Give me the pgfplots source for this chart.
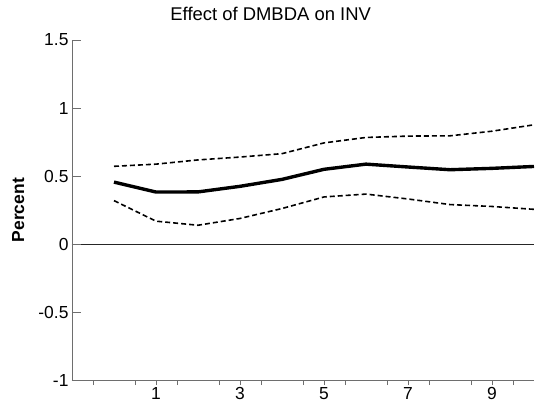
\documentclass[border=0pt]{standalone}
\usepackage{fontspec}
\setmainfont{Liberation Sans}
\usepackage{pgfplots}
\pgfplotsset{compat=1.18}
\definecolor{axgray}{HTML}{6E6E6E}
\begin{document}
\begin{tikzpicture}
\begin{axis}[
  at={(0,0)}, anchor=south west,
  scale only axis, width=462bp, height=340.3bp,
  xmin=-1, xmax=10, ymin=-1, ymax=1.5,
  axis x line*=bottom, axis y line*=left,
  axis line style={axgray, line width=0.7pt},
  every tick/.style={axgray, line width=0.7pt},
  xtick={-0.5,0.5,...,9.5}, xticklabels={},
  xtick align=outside, ytick align=inside,
  xtick style={/pgfplots/major tick length=4.7bp},
  ytick style={/pgfplots/major tick length=9bp},
  extra x ticks={1,3,5,7,9},
  extra x tick labels={1,3,5,7,9},
  extra x tick style={/pgfplots/major tick length=0pt},
  xticklabel style={yshift=-4bp},
  ytick={-1,-0.5,0,0.5,1,1.5},
  yticklabels={-1,-0.5,0,0.5,1,1.5},
  extra y ticks={0}, extra y tick labels={},
  extra y tick style={grid=major, major grid style={black!85, line width=0.8pt}},
  tick label style={font=\fontsize{17.5}{20}\selectfont},
  title={Effect of DMBDA on INV},
  title style={at={(axis description cs:0.43,1)}, anchor=center, yshift=20bp, font=\fontsize{18.5}{22}\selectfont},
  ylabel={Percent},
  ylabel style={at={(axis description cs:-0.1162,0.5)}, anchor=center, font=\fontsize{17.5}{21}\selectfont\bfseries},
  clip=true,
]
\addplot[black, line width=3.4pt, line join=round] coordinates {
(0,0.456)(1,0.383)(2,0.384)(3,0.425)(4,0.476)(5,0.55)(6,0.588)(7,0.567)(8,0.547)(9,0.557)(10,0.571)};
\addplot[black, line width=1.6pt, dash pattern=on 5bp off 3bp] coordinates {
(0,0.572)(1,0.588)(2,0.619)(3,0.64)(4,0.665)(5,0.744)(6,0.784)(7,0.794)(8,0.796)(9,0.83)(10,0.877)};
\addplot[black, line width=1.6pt, dash pattern=on 5bp off 3bp] coordinates {
(0,0.32)(1,0.169)(2,0.139)(3,0.189)(4,0.262)(5,0.347)(6,0.368)(7,0.332)(8,0.291)(9,0.277)(10,0.256)};
\end{axis}
\pgfresetboundingbox
\path[use as bounding box] (-72bp,-26.7bp) rectangle (463bp,380.3bp);
\end{tikzpicture}
\end{document}
